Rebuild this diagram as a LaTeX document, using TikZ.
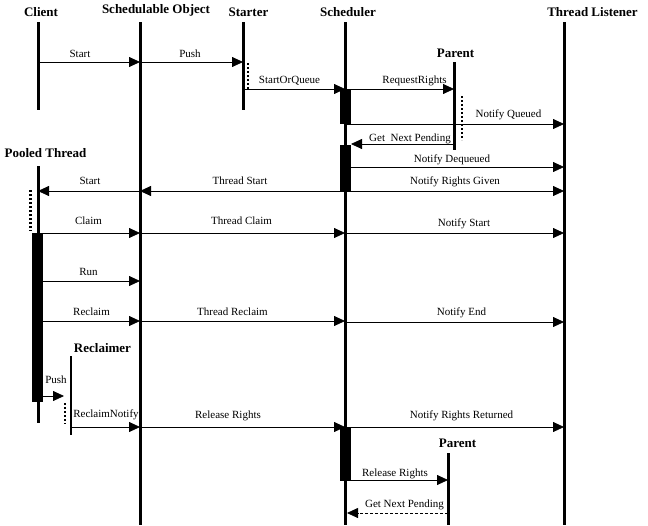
\documentclass[tikz,border=0pt]{standalone}
\usepackage{fontspec}
\setmainfont{Liberation Serif}
\usetikzlibrary{arrows.meta}
\begin{document}
\begin{tikzpicture}[x=1pt,y=-1pt,
  life/.style={line width=3pt},
  thinlife/.style={line width=2pt},
  msg/.style={line width=0.8pt,-{Triangle[length=11pt,width=10pt]}},
  retmsg/.style={msg,dash pattern=on 3pt off 2pt},
  actbar/.style={fill=black,draw=none},
  waitline/.style={line width=2.6pt,dash pattern=on 2pt off 2pt},
  head/.style={font=\bfseries\fontsize{13}{15}\selectfont,anchor=base,inner sep=0pt},
  lbl/.style={font=\fontsize{11}{13}\selectfont,anchor=base,inner sep=0pt}]

\useasboundingbox (0,0) rectangle (648,525);

% lifeline x positions
\coordinate (CL) at (38,0);
\coordinate (SO) at (140,0);
\coordinate (ST) at (243,0);
\coordinate (SC) at (345,0);
\coordinate (SCr) at (351,0);
\coordinate (TL) at (564,0);
\coordinate (PA) at (454,0);
\coordinate (PT) at (38,0);
\coordinate (PTr) at (43,0);
\coordinate (RC) at (71,0);
\coordinate (RCw) at (64,0);
\coordinate (PB) at (448,0);

% headers
\node[head] (hCL) at (41,16) {Client};
\node[head] (hSO) at (156,13) {Schedulable Object};
\node[head] (hST) at (248.5,16) {Starter};
\node[head] (hSC) at (348,16) {Scheduler};
\node[head] (hTL) at (592.5,16) {Thread Listener};
\node[head] (hPA) at (455.5,57) {Parent};
\node[head] (hPT) at (45.5,157) {Pooled Thread};
\node[head] (hRC) at (102.5,352) {Reclaimer};
\node[head] (hPB) at (457.5,447) {Parent};

% lifelines
\draw[life] (CL |- 0,22) -- (CL |- 0,110);
\draw[life] (SO |- 0,22) -- (SO |- 0,525);
\draw[life] (ST |- 0,22) -- (ST |- 0,110);
\draw[life] (SC |- 0,22) -- (SC |- 0,525);
\draw[life] (TL |- 0,22) -- (TL |- 0,525);
\draw[life] (PA |- 0,62) -- (PA |- 0,150);
\draw[life] (PT |- 0,166) -- (PT |- 0,423);
\draw[thinlife] (RC |- 0,356) -- (RC |- 0,435);
\draw[life] (PB |- 0,453) -- (PB |- 0,525);

% waiting (dotted) lines
\draw[waitline] (248,63) -- (248,89);
\draw[waitline] (462,96) -- (462,140);
\draw[waitline] (30.5,190) -- (30.5,231);
\draw[waitline] (65,403) -- (65,424);

% messages
\draw[msg] (CL |- 0,62) -- (SO |- 0,62);
\node[lbl] (l1) at (80,57.5) {Start};
\draw[msg] (SO |- 0,62) -- (ST |- 0,62);
\node[lbl] (l2) at (190,57.5) {Push};
\draw[msg] (ST |- 0,89) -- (SC |- 0,89);
\node[lbl] (l3) at (289.5,83) {StartOrQueue};
\draw[msg] (SC |- 0,89) -- (PA |- 0,89);
\node[lbl] (l4) at (414.5,83) {RequestRights};
\draw[msg] (SC |- 0,124) -- (TL |- 0,124);
\node[lbl] (l5) at (508.5,117) {Notify Queued};
\draw[msg] (PA |- 0,144) -- (SCr |- 0,144);
\node[lbl] (l6) at (410,141) {Get\ \ Next Pending};
\draw[msg] (SC |- 0,167) -- (TL |- 0,167);
\node[lbl] (l7) at (452,162) {Notify Dequeued};
\draw[msg] (SC |- 0,191) -- (TL |- 0,191);
\node[lbl] (l8) at (455,184) {Notify Rights Given};
\draw[msg] (SC |- 0,191) -- (SO |- 0,191);
\node[lbl] (l9) at (240,184) {Thread Start};
\draw[msg] (SO |- 0,191) -- (PT |- 0,191);
\node[lbl] (l10) at (90,184) {Start};
\draw[msg] (PTr |- 0,233) -- (SO |- 0,233);
\node[lbl] (l11) at (88.5,224) {Claim};
\draw[msg] (SO |- 0,233) -- (SC |- 0,233);
\node[lbl] (l12) at (241.5,224) {Thread Claim};
\draw[msg] (SC |- 0,233) -- (TL |- 0,233);
\node[lbl] (l13) at (464,226) {Notify Start};
\draw[msg] (PTr |- 0,281) -- (SO |- 0,281);
\node[lbl] (l14) at (88.5,275) {Run};
\draw[msg] (PTr |- 0,321) -- (SO |- 0,321);
\node[lbl] (l15) at (91.5,315) {Reclaim};
\draw[msg] (SO |- 0,321) -- (SC |- 0,321);
\node[lbl] (l16) at (232.5,315) {Thread Reclaim};
\draw[msg] (SC |- 0,322) -- (TL |- 0,322);
\node[lbl] (l17) at (461.5,315) {Notify End};
\draw[msg] (PTr |- 0,396) -- (RCw |- 0,396);
\node[lbl] (l18) at (56,383) {Push};
\draw[msg] (RC |- 0,427) -- (SO |- 0,427);
\node[lbl] (l19) at (106,417) {ReclaimNotify};
\draw[msg] (SO |- 0,427) -- (SC |- 0,427);
\node[lbl] (l20) at (228,418) {Release Rights};
\draw[msg] (SC |- 0,427) -- (TL |- 0,427);
\node[lbl] (l21) at (461.5,418) {Notify Rights Returned};
\draw[msg] (SC |- 0,480) -- (PB |- 0,480);
\node[lbl] (l22) at (395,476) {Release Rights};
\draw[retmsg] (PB |- 0,513) -- (347,513);
\node[lbl] (l23) at (404.5,507) {Get Next Pending};

% activation bars
\fill[actbar] (340,89) rectangle (351,124);
\fill[actbar] (340,145) rectangle (351,191);
\fill[actbar] (32,233) rectangle (43,402);
\fill[actbar] (340,427) rectangle (351,481);
\end{tikzpicture}
\end{document}
